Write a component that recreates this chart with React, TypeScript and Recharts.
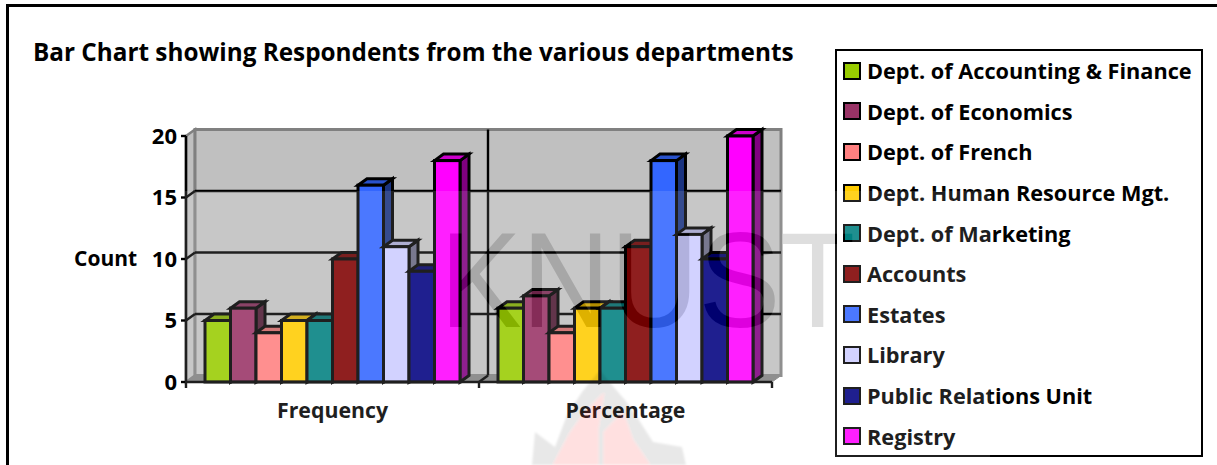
import React from "react";
import {
  Bar,
  BarChart,
  CartesianGrid,
  Legend,
  ReferenceArea,
  XAxis,
  YAxis,
} from "recharts";

const categories = ["Frequency", "Percentage"];
const departments = [
  "Dept. of Accounting & Finance",
  "Dept. of Economics",
  "Dept. of French",
  "Dept. Human Resource Mgt.",
  "Dept. of Marketing",
  "Accounts",
  "Estates",
  "Library",
  "Public Relations Unit",
  "Registry",
];
const frequency = [5, 6, 4, 5, 5, 10, 16, 11, 9, 18];
const percentage = [6, 7, 4, 6, 6, 11, 18, 12, 10, 20];
const colors = [
  "#99CC00",
  "#993366",
  "#FF8080",
  "#FFCC00",
  "#008080",
  "#800000",
  "#3366FF",
  "#CCCCFF",
  "#000080",
  "#FF00FF",
];
const yTicks = [0, 5, 10, 15, 20];
const gridValues = [5, 10, 15];

const rows = categories.map((category, c) => {
  const row: Record<string, string | number> = { category };
  const values = c === 0 ? frequency : percentage;
  departments.forEach((name, i) => {
    row[name] = values[i];
  });
  return row;
});

const FONT = "'Open Sans', sans-serif";
const WIDTH = 1217;
const HEIGHT = 465;
// oblique offset of the 3D depth
const DX = 9;
const DY = 6.5;
const BAND = 293;

function shade(hex: string, f: number) {
  const n = parseInt(hex.slice(1), 16);
  const ch = (s: number) => Math.round(((n >> s) & 255) * f);
  return `rgb(${ch(16)},${ch(8)},${ch(0)})`;
}

function pts(...p: number[][]) {
  return p.map((q) => q.join(",")).join(" ");
}

function Box3D(props: any) {
  const { x, y, width: w, height: h, fill } = props;
  return (
    <g stroke="#000" strokeWidth={3} strokeLinejoin="miter">
      <polygon
        points={pts([x + w, y], [x + w + DX, y - DY], [x + w + DX, y + h - DY], [x + w, y + h])}
        fill={shade(fill, 0.5)}
      />
      <polygon
        points={pts([x, y], [x + DX, y - DY], [x + w + DX, y - DY], [x + w, y])}
        fill={shade(fill, 0.8)}
      />
      <rect x={x} y={y} width={w} height={h} fill={fill} />
    </g>
  );
}

// back wall, side wall and floor, offset from the plot rectangle
function Walls(props: any) {
  const { x, y, width: w, height: h } = props;
  return (
    <g>
      <polygon
        points={pts([x, y], [x + DX, y - DY], [x + DX, y + h - DY], [x, y + h])}
        fill="#C0C0C0"
        stroke="#808080"
        strokeWidth={2.5}
      />
      <rect x={x + DX} y={y - DY} width={w} height={h} fill="#C0C0C0" stroke="#808080" strokeWidth={3} />
      <polygon
        points={pts([x, y + h], [x + DX, y + h - DY], [x + w + DX, y + h - DY], [x + w, y + h])}
        fill="#808080"
        stroke="#808080"
        strokeWidth={1}
      />
    </g>
  );
}

function GridH(props: any) {
  const { x1, x2, y1 } = props;
  return (
    <g stroke="#000" strokeWidth={2.4}>
      <line x1={x1} y1={y1} x2={x1 + DX} y2={y1 - DY} />
      <line x1={x1 + DX} y1={y1 - DY} x2={x2 + DX} y2={y1 - DY} />
    </g>
  );
}

function GridV(props: any) {
  const { x1, y1, y2 } = props;
  return (
    <g stroke="#000" strokeWidth={2.4}>
      <line x1={x1 + DX} y1={y1 - DY} x2={x1 + DX} y2={y2 - DY} />
      <line x1={x1} y1={y2} x2={x1 + DX} y2={y2 - DY} />
    </g>
  );
}

function CategoryTick(props: any) {
  const { x, y, payload, index } = props;
  const left = x - BAND / 2;
  const right = x + BAND / 2;
  return (
    <g>
      {index === 0 && <line x1={left} x2={left} y1={382} y2={388} stroke="#000" strokeWidth={2.4} />}
      <line x1={right} x2={right} y1={382} y2={388} stroke="#000" strokeWidth={2.4} />
      <text x={x} y={y + 28} textAnchor="middle" fontFamily={FONT} fontWeight={700} fontSize={21.3} fill="#000">
        {payload.value}
      </text>
    </g>
  );
}

function KeyBox({ payload }: any) {
  return (
    <div
      style={{
        boxSizing: "border-box",
        width: 368,
        height: 408,
        border: "2.5px solid #000",
        background: "#fff",
        fontFamily: FONT,
        fontWeight: 700,
        fontSize: 21.7,
        color: "#000",
      }}
    >
      {(payload || []).map((item: any) => (
        <div key={item.value} style={{ height: 40.6, display: "flex", alignItems: "center", paddingLeft: 6 }}>
          <span
            style={{
              boxSizing: "border-box",
              width: 18,
              height: 18,
              border: "2.5px solid #000",
              background: item.color,
              marginRight: 6,
              flex: "none",
            }}
          />
          <span style={{ whiteSpace: "nowrap" }}>{item.value}</span>
        </div>
      ))}
    </div>
  );
}

// faint page stamp lying over the chart
function Stamp() {
  const flameOuter =
    "M600 370 L612 385 L625 400 L637 417 L653 442 L682 447 L686 465 L532 465 L535 432 L555 447 L567 415 L582 392 Z";
  const flameLeft = "M604 393 L598 430 L598 465 L553 465 L570 433 L585 412 Z";
  const flameRight = "M623 412 L633 440 L650 465 L604 465 L604 432 Z";
  return (
    <svg
      width={WIDTH}
      height={HEIGHT}
      style={{ position: "absolute", left: 0, top: 0, pointerEvents: "none" }}
    >
      <defs>
        <text
          id="stampWord"
          transform="translate(440,327) scale(1,1.1)"
          fontFamily="Liberation Sans"
          fontSize={122.5}
        >
          KNUST
        </text>
        <clipPath id="stampClip">
          <rect x={0} y={0} width={835} height={HEIGHT} />
        </clipPath>
        <mask id="hazeMask">
          <rect x={0} y={0} width={WIDTH} height={HEIGHT} fill="#fff" />
          <use href="#stampWord" fill="#000" />
        </mask>
        <filter id="stampSoft" x="-10%" y="-10%" width="120%" height="120%">
          <feGaussianBlur stdDeviation={1.2} />
        </filter>
      </defs>
      <rect x={185} y={191} width={805} height={274} fill="#fff" fillOpacity={0.12} mask="url(#hazeMask)" />
      <g clipPath="url(#stampClip)">
        <use href="#stampWord" fill="#000" fillOpacity={0.13} />
      </g>
      <g filter="url(#stampSoft)">
        <path d={`${flameOuter} ${flameLeft} ${flameRight}`} fillRule="evenodd" fill="#000" fillOpacity={0.09} />
        <path d={flameLeft} fill="#f00" fillOpacity={0.12} />
        <path d={flameRight} fill="#f00" fillOpacity={0.12} />
      </g>
    </svg>
  );
}

export default function App() {
  return (
    <div style={{ position: "absolute", left: 0, top: 0, width: WIDTH, height: HEIGHT, overflow: "hidden", background: "#fff" }}>
      <div style={{ position: "absolute", left: 6, top: 4, width: WIDTH, height: 3, background: "#000" }} />
      <div style={{ position: "absolute", left: 6, top: 4, width: 3, height: HEIGHT, background: "#000" }} />
      <div
        style={{
          position: "absolute",
          left: 33,
          top: 36,
          fontFamily: FONT,
          fontWeight: 700,
          fontSize: 24.3,
          lineHeight: "32px",
          color: "#000",
          whiteSpace: "nowrap",
        }}
      >
        Bar Chart showing Respondents from the various departments
      </div>
      <BarChart
        width={WIDTH}
        height={HEIGHT}
        data={rows}
        margin={{ top: 136, right: 445, bottom: 43, left: 126 }}
        barCategoryGap={19}
        barGap={0}
        barSize={25.5}
        style={{ position: "absolute", left: 0, top: 0 }}
      >
        <ReferenceArea y1={0} y2={20} shape={Walls} ifOverflow="visible" zIndex={-200} />
        <CartesianGrid
          horizontalValues={gridValues}
          verticalCoordinatesGenerator={({ offset }: any) => [offset.left + offset.width / 2]}
          horizontal={GridH}
          vertical={GridV}
        />
        <XAxis
          dataKey="category"
          height={40}
          tickLine={false}
          axisLine={{ stroke: "#000", strokeWidth: 2.5 }}
          tick={CategoryTick}
          interval={0}
        />
        <YAxis
          width={60}
          domain={[0, 20]}
          ticks={yTicks}
          tickSize={5}
          tickMargin={4}
          axisLine={{ stroke: "#000", strokeWidth: 2.5 }}
          tickLine={{ stroke: "#000", strokeWidth: 2.4 }}
          tick={{ fontFamily: FONT, fontWeight: 700, fontSize: 22, fill: "#000" }}
          label={{ value: "Count", position: "insideLeft", offset: -52, fontFamily: FONT, fontWeight: 700, fontSize: 21, fill: "#000" }}
        />
        <Legend
          layout="vertical"
          align="center"
          verticalAlign="middle"
          itemSorter={null}
          content={KeyBox}
          wrapperStyle={{ position: "absolute", left: 835, top: 48.5, width: 368, height: 408, margin: 0 }}
        />
        {departments.map((name, i) => (
          <Bar key={name} dataKey={name} fill={colors[i]} shape={Box3D} isAnimationActive={false} />
        ))}
      </BarChart>
      <Stamp />
    </div>
  );
}
